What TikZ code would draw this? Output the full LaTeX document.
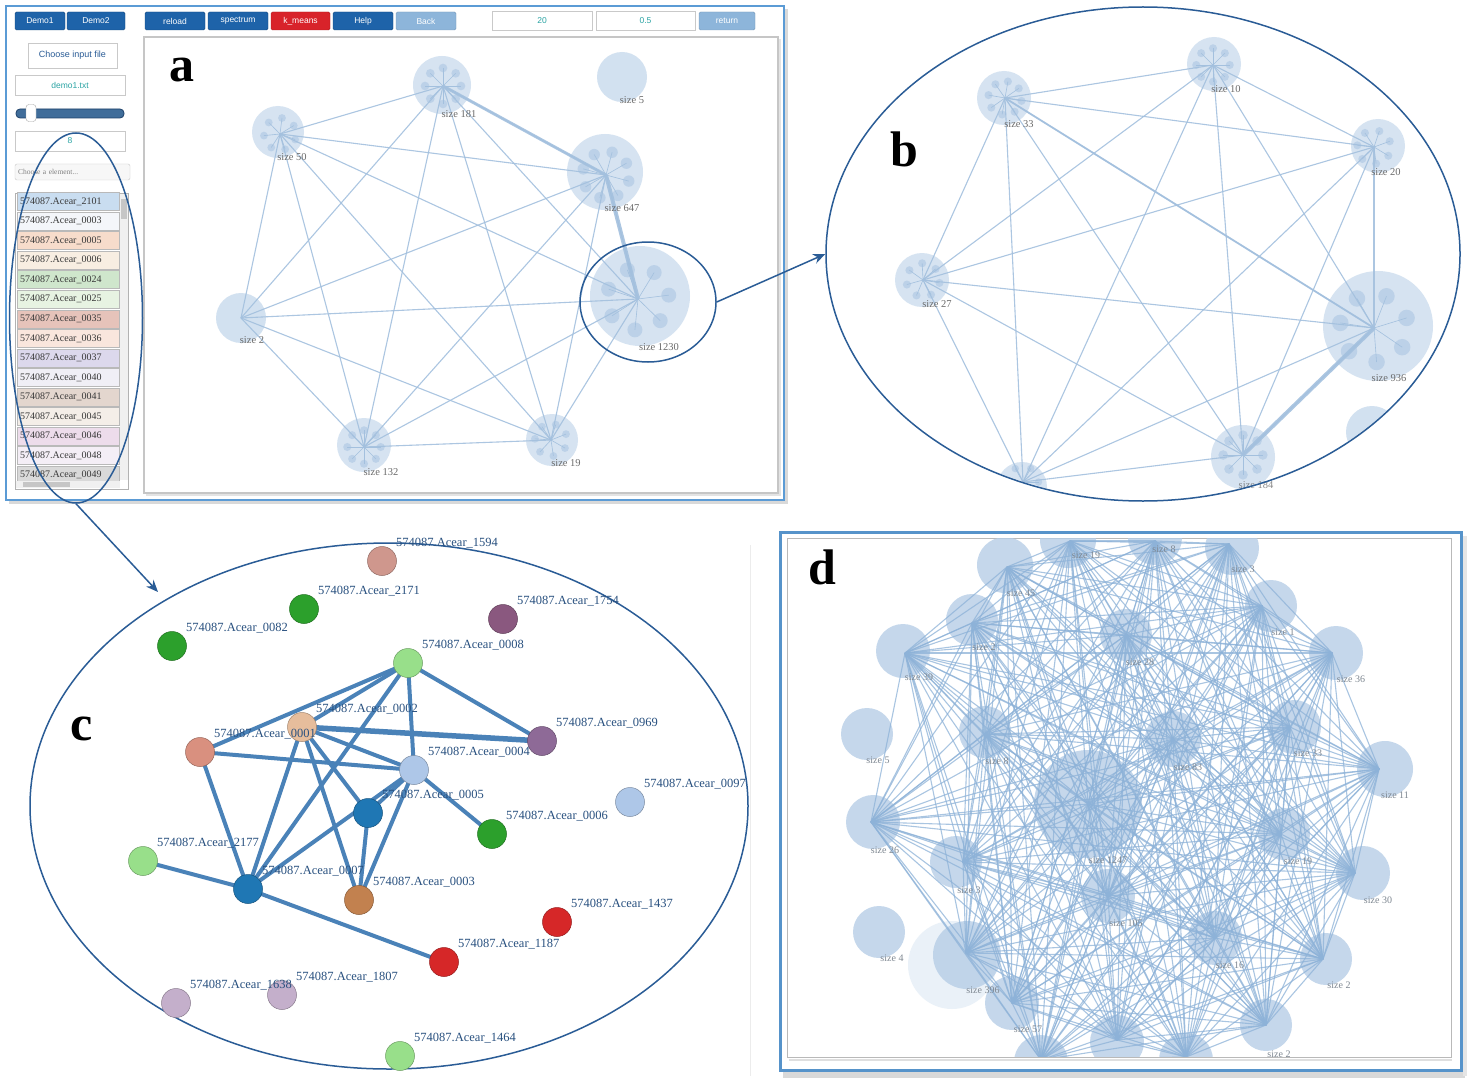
\documentclass[tikz,border=0pt]{standalone}
\usepackage{fontspec}
\setmainfont{Liberation Serif}
\newfontfamily\uisans{Liberation Sans}
\usetikzlibrary{arrows.meta,shapes.geometric,calc}
\pgfdeclarelayer{bgl}
\pgfdeclarelayer{edgel}
\pgfsetlayers{bgl,edgel,main}
\definecolor{hl}{HTML}{2A5C96}
\definecolor{frameblue}{HTML}{5B9BD5}
\definecolor{clfill}{HTML}{D2E1F0}
\definecolor{clsub}{HTML}{B4CCE5}
\definecolor{cledge}{HTML}{A3C0DE}
\definecolor{lblc}{HTML}{6A6A6A}
\definecolor{dfill}{HTML}{B5CDE6}
\definecolor{dedgec}{HTML}{8DB2D8}
\definecolor{dlblc}{HTML}{7E8791}
\definecolor{cedgec}{HTML}{4A82B8}
\definecolor{ctext}{HTML}{28507F}
\definecolor{btnc}{HTML}{1E63A9}
\definecolor{btnl}{HTML}{8DB5DA}
\definecolor{btnr}{HTML}{D8232A}
\definecolor{tealc}{HTML}{2BA4A4}
\definecolor{boxgray}{HTML}{C9C9C9}
\definecolor{crosy}{HTML}{CF978D}
\definecolor{cgreen}{HTML}{2CA02C}
\definecolor{cpurp}{HTML}{8A587F}
\definecolor{cpurpb}{HTML}{8E6A97}
\definecolor{clgreen}{HTML}{98DF8A}
\definecolor{cpeach}{HTML}{E6BD9C}
\definecolor{csalmon}{HTML}{D9907F}
\definecolor{clblue}{HTML}{AEC7E8}
\definecolor{cdblue}{HTML}{1F77B4}
\definecolor{cbrown}{HTML}{C2814F}
\definecolor{cred}{HTML}{D62728}
\definecolor{clilac}{HTML}{C4AFCB}
\definecolor{li1}{HTML}{C9DDF0}
\definecolor{li2}{HTML}{F4F6FA}
\definecolor{li3}{HTML}{F7DCCB}
\definecolor{li4}{HTML}{F8EEE2}
\definecolor{li5}{HTML}{CFE6CC}
\definecolor{li6}{HTML}{E7F3E2}
\definecolor{li7}{HTML}{E6C3BA}
\definecolor{li8}{HTML}{F9E6DD}
\definecolor{li9}{HTML}{DCD8EC}
\definecolor{li10}{HTML}{F0EFF6}
\definecolor{li11}{HTML}{E3D6CE}
\definecolor{li12}{HTML}{F4EEE8}
\definecolor{li13}{HTML}{EDDCEB}
\definecolor{li14}{HTML}{F4EEF6}
\definecolor{li15}{HTML}{D9D9D9}
\tikzset{
 btnbox/.style={rounded corners=1.5pt, draw=btnc!75!black, fill=btnc, text=white, font=\uisans\fontsize{8.5}{10}\selectfont, minimum height=18pt, inner sep=0pt},
 inbox/.style={draw=boxgray, fill=white, minimum height=20pt, inner sep=0pt, font=\uisans\fontsize{8.5}{10}\selectfont, text=tealc},
 clin/.style={cledge, line width=0.6pt},
 clsubst/.style={clsub, opacity=0.75},
 aedge/.style={cledge, line width=1.1pt, opacity=0.9},
 albl/.style={text=lblc, font=\fontsize{10.5}{12}\selectfont, inner sep=0pt},
 dedge/.style={dedgec, line width=1.1pt, opacity=0.75},
 dcl/.style={dfill, opacity=0.78},
 dlbl/.style={text=dlblc, font=\fontsize{10}{12}\selectfont, inner sep=0pt},
 cnode/.style={circle, minimum size=29pt, inner sep=0pt, draw=#1!70!black, line width=0.5pt, fill=#1},
 clab/.style={text=ctext, font=\fontsize{12.5}{14}\selectfont, inner sep=0pt, anchor=west},
 cedge/.style={cedgec, line width=4pt},
 hlell/.style={draw=hl, line width=1.5pt, ellipse, inner sep=0pt},
 hlarrow/.style={draw=hl, line width=1.5pt, -{Stealth[length=12pt,width=10pt]}},
 plabel/.style={font=\fontsize{50}{50}\bfseries\selectfont, inner sep=0pt},
}
% cluster: name, hub xy, circle xy, R, n, rot
\newcommand{\clus}[6]{%
  \fill[clfill, opacity=0.9] (#3) circle[radius=#4];
  \coordinate (#1) at (#2);
  \foreach \k in {1,...,#5}{%
    \pgfmathsetmacro\ang{#6+\k*360/#5}%
    \pgfmathsetmacro\dd{0.62*#4}%
    \pgfmathsetmacro\rr{0.15*#4}%
    \fill[clsubst] (#1) ++(\ang:\dd) circle[radius=\rr];
    \draw[clin] (#1) -- ++(\ang:\dd);
  }%
}
\newcommand{\cn}[4]{%
  \node[cnode=#4] (c#1) at (#2,#3) {};
  \node[clab] (c#1l) at ({#2+14},{#3-18}) {574087.Acear\_#1};%
}
\begin{document}
\begin{tikzpicture}[x=1pt,y=-1pt]
\begin{pgfonlayer}{bgl}
\fill[white] (0,0) rectangle (1477,1086);
\end{pgfonlayer}
\useasboundingbox (0,0) rectangle (1477,1086);

% ================= Panel a frame =================
\fill[gray!30] (9,9) rectangle (788,504);
\fill[white] (6,6) rectangle (784,500);
\draw[frameblue, line width=2pt] (6,6) rectangle (784,500);
\fill[gray!22] (146,39) rectangle (781,496);
\draw[gray!45, line width=1.2pt, fill=white] (144,37) rectangle (778,493);

% buttons
\node[btnbox, minimum width=50pt] (bdemo1) at (40,21) {Demo1};
\node[btnbox, minimum width=58pt] (bdemo2) at (96,21) {Demo2};
\node[btnbox, minimum width=60pt] (breload) at (175,21) {reload};
\node[btnbox, minimum width=60pt] (bspec) at (238,21) {spectrum};
\node[btnbox, minimum width=59pt, fill=btnr, draw=btnr!80!black] (bkm) at (300.5,21) {k\_means};
\node[btnbox, minimum width=60pt] (bhelp) at (363,21) {Help};
\node[btnbox, minimum width=60pt, fill=btnl, draw=btnl!85!black] (bback) at (426,21) {Back};
\node[inbox, minimum width=100pt, minimum height=19pt] (b20) at (542,21) {20};
\node[inbox, minimum width=99pt, minimum height=19pt] (b05) at (645.5,21) {0.5};
\node[btnbox, minimum width=56pt, fill=btnl, draw=btnl!85!black] (bret) at (727,21) {return};

% left controls
\node[draw=boxgray, fill=white, minimum width=89pt, minimum height=25pt, inner sep=0pt, text=hl, font=\uisans\fontsize{9}{10}\selectfont] (bfile) at (72.5,55.5) {Choose input file};
\node[inbox, minimum width=110pt] (bdemo) at (70,85) {demo1.txt};
\draw[fill=btnc!65!gray, draw=hl!70!black, rounded corners=4pt, line width=0.8pt] (16,109) rectangle (124,118);
\node[draw=gray!70, fill=white, rounded corners=3pt, minimum width=10pt, minimum height=17pt, inner sep=0pt] (knob) at (31,113) {};
\node[inbox, minimum width=110pt] (b8) at (70,141) {8};
\node[draw=boxgray, fill=gray!6, rounded corners=2pt, minimum width=115pt, minimum height=16pt, inner sep=0pt, text=gray, font=\fontsize{7.5}{9}\selectfont, text width=109pt, align=left] (bsel) at (72.5,172) {Choose a element...};

% list
\draw[gray!60, fill=white] (15,193) rectangle (128,489);
\foreach \t [count=\i] in {2101,0003,0005,0006,0024,0025,0035,0036,0037,0040,0041,0045,0046,0048,0049}{
  \pgfmathsetmacro\yy{201.5+(\i-1)*19.55}
  \draw[fill=li\i, draw=gray!55, line width=0.5pt] (17,\yy-9) rectangle (119,\yy+9);
  \node[anchor=west, inner sep=0pt, text=black!78, font=\fontsize{10}{12}\selectfont] (item\i) at (20,\yy) {574087.Acear\_\t};
}
\fill[gray!12] (120,194) rectangle (127.5,480);
\fill[gray!45] (121,199) rectangle (127,219);
\fill[gray!12] (16,481) rectangle (120,488);
\fill[gray!45] (23,482) rectangle (70,487);
\node[hlell, minimum width=133pt, minimum height=370pt] (listell) at (76,318) {};

% panel a graph
\node[plabel] (pa) at (182,70) {a};
\clus{a181}{443,86}{442,85}{29}{8}{0}
\clus{a50}{280,134}{278,132}{26}{7}{20}
\fill[clfill] (622,77) circle[radius=25];
\clus{a647}{606,175}{605,172}{38}{8}{15}
\clus{a1230}{638,299}{640,296}{50}{7}{-110}
\fill[clfill] (241,318) circle[radius=25];
\coordinate (a2) at (241,318);
\clus{a132}{364,447}{364,445}{27}{8}{0}
\clus{a19}{551,440}{552,440}{26}{7}{30}
\def\alist{a181,a50,a647,a1230,a2,a132,a19}
\foreach \u [count=\i] in \alist {
  \foreach \v [count=\j] in \alist {
    \ifnum\j>\i \draw[aedge] (\u) -- (\v); \fi
  }
}
\draw[aedge, line width=3pt] (a181) -- (a647);
\draw[aedge, line width=4pt] (a647) -- (a1230);
\node[albl] (la181) at (459,114) {size 181};
\node[albl] (la50) at (292,157) {size 50};
\node[albl] (la5) at (632,100) {size 5};
\node[albl] (la647) at (622,208) {size 647};
\node[albl] (la1230) at (659,347) {size 1230};
\node[albl] (la2) at (252,340) {size 2};
\node[albl] (la132) at (381,472) {size 132};
\node[albl] (la19) at (566,463) {size 19};
\node[hlell, minimum width=136pt, minimum height=120pt] (hl1230) at (648,302) {};

% ================= Panel b =================
\begin{scope}
\clip (1143,254) ellipse[x radius=316pt, y radius=246pt];
\clus{b33}{1005,98}{1004,98}{27}{8}{10}
\clus{b10}{1213,65}{1214,64}{27}{8}{0}
\clus{b20}{1374,147}{1378,146}{27}{7}{-20}
\clus{b27}{923,280}{922,280}{27}{7}{10}
\clus{b936}{1374,328}{1378,326}{55}{7}{-120}
\clus{b184}{1243,455}{1243,457}{32}{8}{0}
\clus{bbl}{1023,482}{1022,487}{25}{6}{0}
\fill[clfill] (1372,432) circle[radius=26];
\def\blist{b33,b10,b20,b27,b936,b184,bbl}
\foreach \u [count=\i] in \blist {
  \foreach \v [count=\j] in \blist {
    \ifnum\j>\i \draw[aedge] (\u) -- (\v); \fi
  }
}
\draw[aedge, line width=4pt] (b936) -- (b184);
\draw[aedge, line width=1.8pt] (b33) -- (b936);
\end{scope}
\node[albl] (lb33) at (1019,124) {size 33};
\node[albl] (lb10) at (1226,89) {size 10};
\node[albl] (lb20) at (1386,172) {size 20};
\node[albl] (lb27) at (937,304) {size 27};
\node[albl] (lb936) at (1389,378) {size 936};
\node[albl, opacity=0.8] (lb184) at (1256,485) {size 184};
\node[hlell, minimum width=634pt, minimum height=494pt] (bell) at (1143,254) {};
\draw[hlarrow] (hl1230.east) -- (bell.west);
\node[plabel] (pb) at (904,149) {b};

% ================= Panel c =================
\draw[gray!15, line width=0.8pt] (750,545) -- (750,1076);
\node[hlell, minimum width=718pt, minimum height=526pt] (cell) at (389,806) {};
\coordinate (carr) at (158,592);
\draw[hlarrow] (listell.south) -- (carr);
\node[plabel] (pc) at (82,729) {c};
\cn{1594}{382}{561}{crosy}
\cn{2171}{304}{609}{cgreen}
\cn{1754}{503}{619}{cpurp}
\cn{0082}{172}{646}{cgreen}
\cn{0008}{408}{663}{clgreen}
\cn{0002}{302}{727}{cpeach}
\cn{0001}{200}{752}{csalmon}
\cn{0969}{542}{741}{cpurpb}
\cn{0004}{414}{770}{clblue}
\cn{0005}{368}{813}{cdblue}
\cn{0006}{492}{834}{cgreen}
\cn{0097}{630}{802}{clblue}
\cn{2177}{143}{861}{clgreen}
\cn{0007}{248}{889}{cdblue}
\cn{0003}{359}{900}{cbrown}
\cn{1437}{557}{922}{cred}
\cn{1187}{444}{962}{cred}
\cn{1807}{282}{995}{clilac}
\cn{1638}{176}{1003}{clilac}
\cn{1464}{400}{1056}{clgreen}
\begin{pgfonlayer}{edgel}
\foreach \u/\v in {0008/0001,0008/0002,0008/0004,0008/0969,0008/0007,0001/0004,0001/0007,0002/0004,0002/0007,0002/0003,0002/0005,0004/0005,0004/0007,0004/0003,0004/0006,0005/0003,2177/0007,0007/1187}
  \draw[cedge] (c\u.center) -- (c\v.center);
\draw[cedge, line width=5.5pt] (c0002.center) -- (c0969.center);
\end{pgfonlayer}

% ================= Panel d =================
\fill[gray!30] (783,1072) rectangle (1465,1078);
\fill[gray!20] (1463,536) rectangle (1467,1076);
\draw[frameblue!95!black, line width=3pt] (780,532) rectangle (1461,1070);
\draw[gray!25, line width=2pt] (789,1059.5) -- (1452,1059.5);
\draw[gray!55, line width=1pt] (787,538) rectangle (1451,1057);
\begin{scope}
\clip (787.5,538.5) rectangle (1450.5,1056.5);
\fill[clfill, opacity=0.45] (952,965) circle[radius=44];
\fill[dcl] (867,734) circle[radius=26];
\fill[dcl] (879,932) circle[radius=26];
\foreach \n/\hx/\hy/\cx/\cy/\r in {d19t/1070/541/1068/540/28, d8t/1155/541/1155/538/27, d3t/1229/544/1232/548/27, d45/1007/567/1005/565/28, d2a/972/623/972/620/26, d1/1262/606/1271/606/26, d28/1126/635/1126/635/26, d39/905/653/903/651/27, d36/1332/653/1336/653/27, d8m/985/734/985/732/26, d83/1173/739/1173/739/28, d33/1290/727/1294/727/27, d11/1379/769/1385/769/28, d26/871/822/873/822/27, d1247/1088/804/1088/804/54, d19r/1281/834/1284/834/26, d3l/963/862/956/862/26, d30/1355/873/1363/873/27, d105/1108/896/1108/896/27, d396/966/953/967/955/34, d16/1215/938/1215/938/27, d2r/1323/959/1326/959/26, d57/1012/1003/1012/1003/27, d2b/1266/1025/1266/1025/26, dbta/1041/1060/1041/1062/27, dbtb/1117/1040/1117/1042/27, dbtc/1186/1057/1186/1060/27}{
  \fill[dcl] (\cx,\cy) circle[radius=\r];
  \coordinate (\n) at (\hx,\hy);
}
\def\dlist{d19t,d8t,d3t,d45,d2a,d1,d28,d39,d36,d8m,d83,d33,d11,d26,d1247,d19r,d3l,d30,d105,d396,d16,d2r,d57,d2b,dbta,dbtb,dbtc}
\foreach \u [count=\i] in \dlist {
  \foreach \v [count=\j] in \dlist {
    \ifnum\j>\i \draw[dedge] (\u) -- (\v); \fi
  }
}
\foreach \t/\x/\y [count=\i] in {19/1086/555, 8/1164/549, 3/1243/569, 45/1021/593, 2/984/647, 1/1283/632, 28/1140/662, 39/919/677, 36/1351/679, 5/878/760, 8/997/761, 83/1188/767, 33/1308/753, 11/1395/795, 26/885/850, 1247/1108/860, 19/1298/861, 3/969/890, 30/1378/900, 105/1126/923, 4/892/958, 396/983/990, 16/1230/965, 2/1339/985, 57/1028/1029, 2/1279/1054}{
  \node[dlbl] (dl\i) at (\x,\y) {size \t};
}
\end{scope}
\node[plabel] (pd) at (822,567) {d};
\end{tikzpicture}
\end{document}
